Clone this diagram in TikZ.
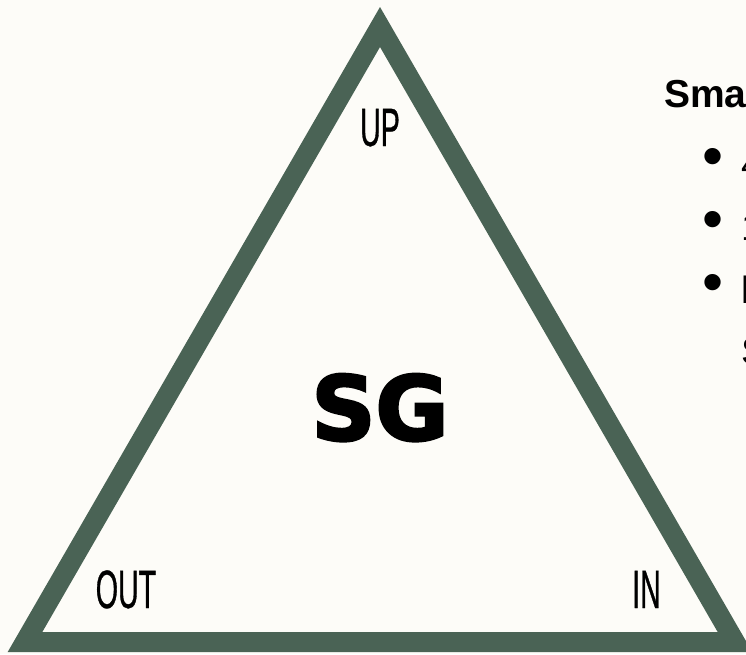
\documentclass[tikz,border=0pt]{standalone}
\usepackage{fontspec}
\setmainfont{Liberation Sans}
\newfontfamily\condfont[FakeStretch=0.53,FakeBold=0.6]{Liberation Sans}
\newfontfamily\heavyfont[BoldFeatures={FakeBold=3}]{DejaVu Sans}
\usetikzlibrary{positioning}
\definecolor{verde}{HTML}{4A6355}
\definecolor{fondo}{HTML}{FDFCF8}

\begin{document}
\begin{tikzpicture}[
  x=1pt, y=-1pt,
  borde/.style={draw=verde, line width=20pt, line join=miter},
  vertice/.style={inner sep=0pt, anchor=base, font=\condfont\fontsize{54}{60}\selectfont},
  titulo/.style={inner sep=0pt, anchor=base west, font=\bfseries\fontsize{39}{44}\selectfont},
  item/.style={inner sep=0pt, anchor=base west, font=\fontsize{38}{44}\selectfont},
  punto/.style={inner sep=0pt, font=\fontsize{60}{64}\selectfont}
]
  % --- lienzo
  \useasboundingbox (0,0) rectangle (746,654);
  \clip (0,0) rectangle (746,654);
  \fill[fondo] (0,0) rectangle (746,654);

  % --- triangulo
  \coordinate (top) at (380,27);
  \coordinate (izq) at (25,642);
  \coordinate (der) at (735,642);
  \draw[borde] (top) -- (izq) -- (der) -- cycle;

  % --- vertices
  \node[vertice] (up) at (380,146) {UP};
  \node[vertice] (out) at (126,608) {OUT};
  \node[vertice] (in) at (646.5,608) {IN};

  % --- centro
  \node[inner sep=0pt, anchor=base, font=\heavyfont\bfseries\fontsize{89}{90}\selectfont]
        (sg) at (380,440) {SG};

  % --- lista (recortada)
  \node[titulo] (tit) at (664,107) {Sma};
  \node[punto] (b1) at (713,162) {•};
  \node[punto] (b2) at (713,225) {•};
  \node[punto] (b3) at (713,288) {•};
  \node[item] (i1) at (741,177) {4};
  \node[item] (i2) at (741,240) {1};
  \node[item] (i3) at (741,303) {l};
  \node[item] (i4) at (741,364) {S};
\end{tikzpicture}
\end{document}
